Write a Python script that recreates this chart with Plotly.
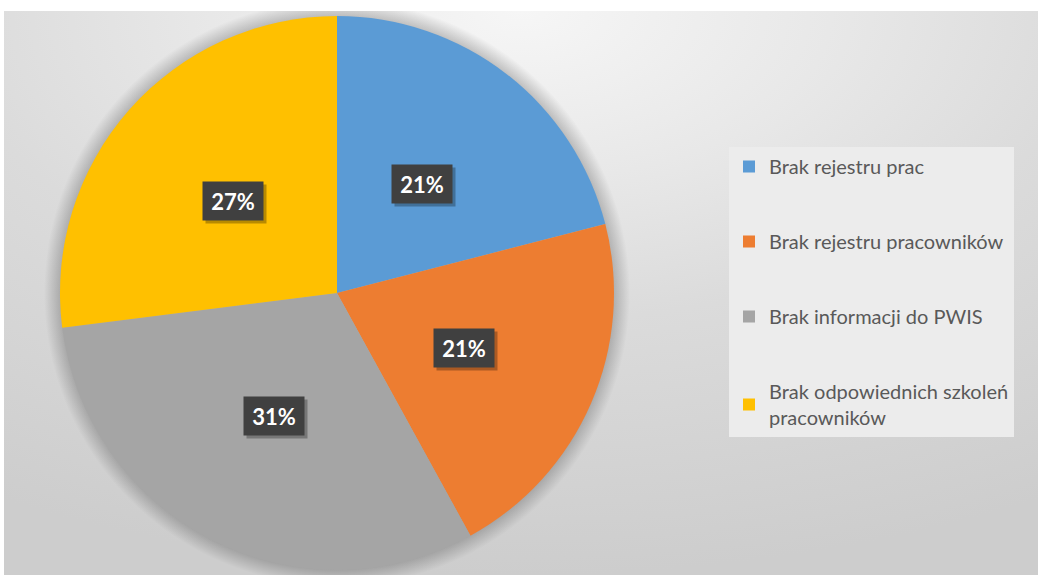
import base64

import numpy as np
import plotly.graph_objects as go

# -----------------------------------------------------------------------------
# Dados do gráfico
# -----------------------------------------------------------------------------
categorias = [
    "Brak rejestru prac",
    "Brak rejestru pracowników",
    "Brak informacji do PWIS",
    "Brak odpowiednich szkoleń pracowników",
]
# Nomes na legenda (o último quebra em duas linhas, como no original)
nomes_legenda = [
    "Brak rejestru prac",
    "Brak rejestru pracowników",
    "Brak informacji do PWIS",
    "Brak odpowiednich szkoleń<br>pracowników",
]
percentuais = [21, 21, 31, 27]

# Paleta padrão do Office
CORES = ["#5B9BD5", "#ED7D31", "#A5A5A5", "#FFC000"]
COR_TEXTO = "#595959"
COR_ROTULO = "#404040"

# Geometria (em pixels)
W, H = 1038, 575
CX, CY, R = 337, 293, 277      # centro e raio da pizza
FX, FY = 4, 11                 # canto superior esquerdo da área cinza

# -----------------------------------------------------------------------------
# Fundo: gradiente radial + sombra suave em volta da pizza (SVG embutido)
# -----------------------------------------------------------------------------
bw, bh = W - FX, H - FY
sx, sy = CX - FX, CY - FY
rs = R + 16
svg = f"""<svg xmlns="http://www.w3.org/2000/svg" width="{bw}" height="{bh}" viewBox="0 0 {bw} {bh}" preserveAspectRatio="none">
<defs>
<radialGradient id="fundo" cx="0.5" cy="0" r="1">
<stop offset="0" stop-color="#f6f6f6"/>
<stop offset="0.3" stop-color="#e8e8e8"/>
<stop offset="0.55" stop-color="#dbdbdb"/>
<stop offset="1" stop-color="#cdcdcd"/>
</radialGradient>
<radialGradient id="sombra" gradientUnits="userSpaceOnUse" cx="{sx}" cy="{sy}" r="{rs}">
<stop offset="0" stop-color="#000" stop-opacity="0.2"/>
<stop offset="{R / rs:.4f}" stop-color="#000" stop-opacity="0.2"/>
<stop offset="1" stop-color="#000" stop-opacity="0"/>
</radialGradient>
</defs>
<rect width="{bw}" height="{bh}" fill="url(#fundo)"/>
<circle cx="{sx}" cy="{sy}" r="{rs}" fill="url(#sombra)"/>
</svg>"""
fundo_uri = "data:image/svg+xml;base64," + base64.b64encode(svg.encode()).decode()

# -----------------------------------------------------------------------------
# Pizza
# -----------------------------------------------------------------------------
fig = go.Figure()

fig.add_trace(go.Pie(
    labels=categorias,
    values=percentuais,
    sort=False,
    direction="clockwise",
    rotation=0,
    marker=dict(colors=CORES, line=dict(width=0)),
    textinfo="none",
    hoverinfo="label+percent",
    showlegend=False,
    domain=dict(
        x=[(CX - R) / W, (CX + R) / W],
        y=[1 - (CY + R) / H, 1 - (CY - R) / H],
    ),
))

# Legenda: um item por categoria (quadrado colorido), com espaço entre itens
for nome, cor in zip(nomes_legenda, CORES):
    fig.add_trace(go.Scatter(
        x=[None], y=[None],
        mode="markers",
        marker=dict(symbol="square", size=12, color=cor),
        name=nome,
        legendgroup=nome,
        showlegend=True,
        hoverinfo="skip",
    ))

# Rótulos de porcentagem: caixas escuras no meio de cada fatia
frac = np.array(percentuais, dtype=float) / np.sum(percentuais)
meio = np.cumsum(frac) - frac / 2
theta = meio * 2 * np.pi
px_rot = CX + 0.5 * R * np.sin(theta)
py_rot = CY - 0.5 * R * np.cos(theta)
textos = [f"{p:.0f}%" for p in frac * 100]

anotacoes = []
for x, y, t in zip(px_rot, py_rot, textos):
    base = dict(
        x=x / W, y=1 - y / H, xref="paper", yref="paper",
        xanchor="center", yanchor="middle",
        showarrow=False,
        width=48, height=26, borderpad=6,
    )
    # sombra da caixa (sem texto, só o retângulo deslocado)
    anotacoes.append({**base, "text": "\u00a0", "bgcolor": "rgba(0,0,0,0.28)",
                      "font": dict(family="Lato", size=22),
                      "xshift": 3, "yshift": -3})
    anotacoes.append({**base, "text": t, "bgcolor": COR_ROTULO,
                      "font": dict(family="Lato", size=22, color="white", weight="bold")})

fig.update_layout(
    template="none",
    width=W,
    height=H,
    margin=dict(l=0, r=0, t=0, b=0),
    paper_bgcolor="white",
    plot_bgcolor="rgba(0,0,0,0)",
    xaxis=dict(visible=False),
    yaxis=dict(visible=False),
    font=dict(family="Lato", size=20, color=COR_TEXTO),
    legend=dict(
        x=729 / W, y=1 - 147 / H,
        xanchor="left", yanchor="top",
        bgcolor="#ececec",
        borderwidth=0,
        traceorder="grouped",
        tracegroupgap=46,
        font=dict(family="Lato", size=20, color=COR_TEXTO),
    ),
    annotations=anotacoes,
    images=[dict(
        source=fundo_uri,
        xref="paper", yref="paper",
        x=FX / W, y=1 - FY / H,
        sizex=bw / W, sizey=bh / H,
        xanchor="left", yanchor="top",
        sizing="stretch",
        layer="below",
    )],
)

# Tira a margem padrão do <body> para a figura ocupar a janela inteira
fig.write_html(
    "out.html",
    config={"displayModeBar": False},
    post_script="document.body.style.margin='0';",
)
